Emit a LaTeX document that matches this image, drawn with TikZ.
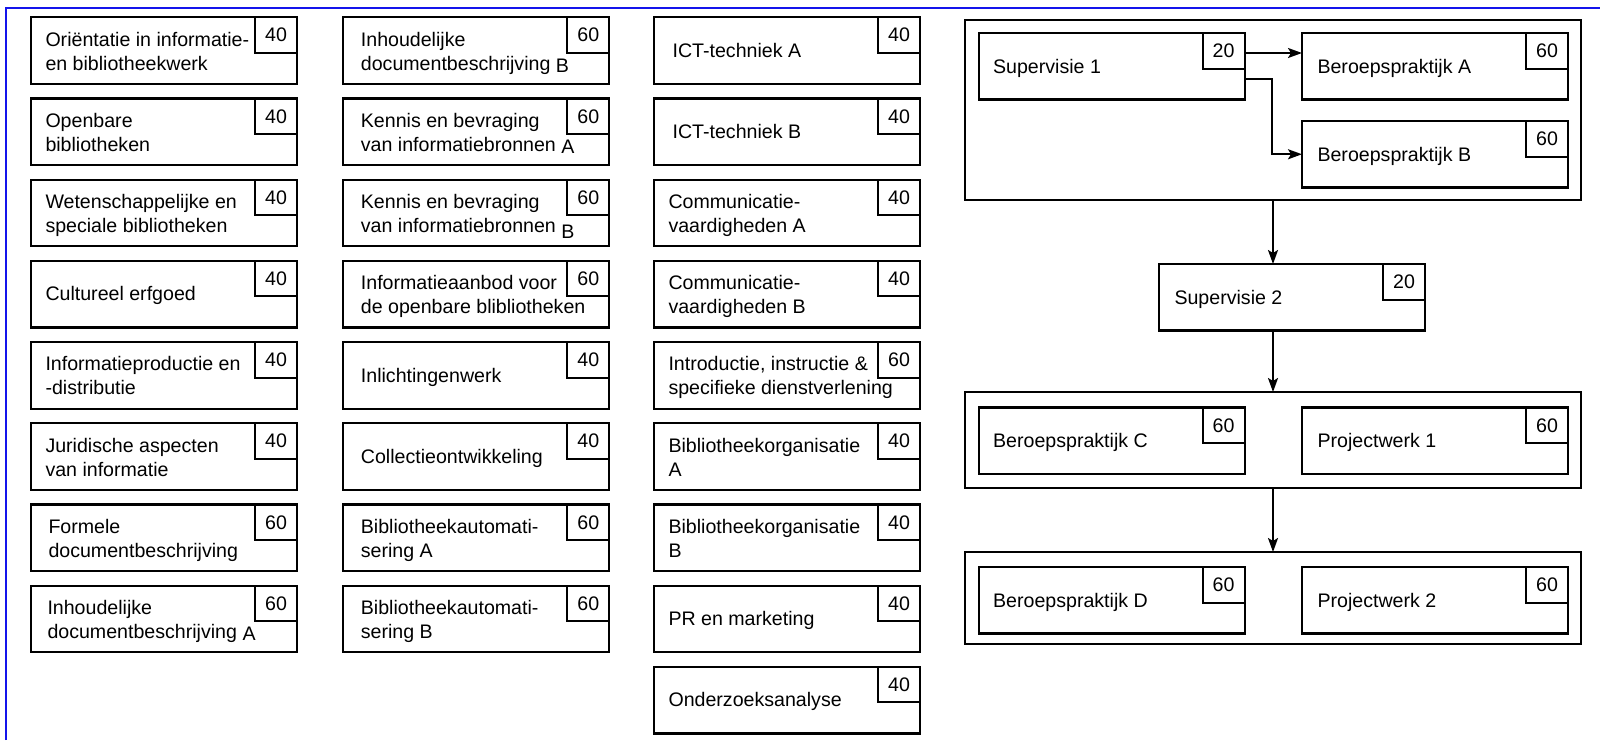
\documentclass[tikz,border=0pt]{standalone}
\usepackage{fontspec}
\setmainfont{Liberation Sans}
\usetikzlibrary{calc,arrows.meta}
\definecolor{frameblue}{RGB}{20,20,235}
\tikzset{
  cbox/.style={draw, line width=2.2pt, minimum width=266pt, minimum height=66.5pt, inner sep=0pt, outer sep=0pt, anchor=north west},
  badge/.style={draw, line width=2pt, minimum width=42pt, minimum height=35.5pt, inner sep=0pt, outer sep=0pt, anchor=north east, font=\fontsize{19.6pt}{22pt}\selectfont},
  ctext/.style={align=left, inner sep=0pt, anchor=base west, font=\fontsize{19.6pt}{24pt}\selectfont},
  grp/.style={draw, line width=2.2pt, inner sep=0pt, outer sep=0pt, minimum width=616pt, anchor=north west},
  arr/.style={line width=2pt, -{Stealth[length=14pt,width=10pt,inset=3pt]}},
}
% #5 = distance from box top to the baseline of the LAST text line
\newcommand\crs[7]{%
  \node[cbox] (#1) at (#2,#3) {};
  \node[badge] (#1n) at (#1.north east) {#7};
  \node[ctext] (#1t) at ($(#1.north west)+(#4,#5)$) {#6};
}
\newcommand\lowr[2]{\raisebox{-#1pt}{#2}}
\begin{document}
\begin{tikzpicture}[x=1pt,y=-1pt]
\useasboundingbox (0,0) rectangle (1600,740);
\draw[frameblue, line width=2pt] (5.7,740) -- (5.7,7.5) -- (1600,7.5);

% column 1
\crs{a1}{31}{17.3}{14.3}{52.7}{Oriëntatie in informatie-\\en bibliotheekwerk}{40}
\crs{a2}{31}{98.5}{14.3}{52.7}{Openbare\\bibliotheken}{40}
\crs{a3}{31}{179.7}{14.3}{52.7}{Wetenschappelijke en\\speciale bibliotheken}{40}
\crs{a4}{31}{260.9}{14.3}{40}{Cultureel erfgoed}{40}
\crs{a5}{31}{342.1}{14.3}{52.7}{Informatieproductie en\\-distributie}{40}
\crs{a6}{31}{423.3}{14.3}{52.7}{Juridische aspecten\\van informatie}{40}
\crs{a7}{31}{504.5}{17.3}{52.7}{Formele\\documentbeschrijving}{60}
\crs{a8}{31}{585.7}{16.3}{52.7}{Inhoudelijke\\documentbeschrijving \lowr{2.5}{A}}{60}

% column 2
\crs{b1}{343.3}{17.3}{17.4}{52.7}{Inhoudelijke\\documentbeschrijving \lowr{2.5}{B}}{60}
\crs{b2}{343.3}{98.5}{17.4}{52.7}{Kennis en bevraging\\van informatiebronnen \lowr{2.5}{A}}{60}
\crs{b3}{343.3}{179.7}{17.4}{52.7}{Kennis en bevraging\\van informatiebronnen \lowr{6}{B}}{60}
\crs{b4}{343.3}{260.9}{17.4}{52.7}{Informatieaanbod voor\\de openbare blibliotheken}{60}
\crs{b5}{343.3}{342.1}{17.4}{40}{Inlichtingenwerk}{40}
\crs{b6}{343.3}{423.3}{17.4}{40}{Collectieontwikkeling}{40}
\crs{b7}{343.3}{504.5}{17.4}{52.7}{Bibliotheekautomati-\\sering A}{60}
\crs{b8}{343.3}{585.7}{17.4}{52.7}{Bibliotheekautomati-\\sering B}{60}

% column 3
\crs{c1}{654}{17.3}{18.4}{40}{ICT-techniek A}{40}
\crs{c2}{654}{98.5}{18.4}{40}{ICT-techniek B}{40}
\crs{c3}{654}{179.7}{14.3}{52.7}{Communicatie-\\vaardigheden A}{40}
\crs{c4}{654}{260.9}{14.3}{52.7}{Communicatie-\\vaardigheden B}{40}
\crs{c5}{654}{342.1}{14.3}{52.7}{Introductie, instructie \&\\specifieke dienstverlening}{60}
\crs{c6}{654}{423.3}{14.3}{52.7}{Bibliotheekorganisatie\\A}{40}
\crs{c7}{654}{504.5}{14.3}{52.7}{Bibliotheekorganisatie\\B}{40}
\crs{c8}{654}{585.7}{14.3}{40}{PR en marketing}{40}
\crs{c9}{654}{666.9}{14.3}{40}{Onderzoeksanalyse}{40}

% right part
\node[grp, minimum height=180pt] (g1) at (965,20) {};
\crs{s1}{978.6}{33}{14.3}{40}{Supervisie 1}{20}
\crs{ba}{1302}{33}{15.3}{40}{Beroepspraktijk A}{60}
\crs{bb}{1302}{121}{15.3}{40}{Beroepspraktijk B}{60}
\crs{s2}{1159}{264}{15.3}{40}{Supervisie 2}{20}
\node[grp, minimum height=96pt] (g2) at (965,392) {};
\crs{bc}{978.6}{407.5}{14.3}{40}{Beroepspraktijk C}{60}
\crs{p1}{1302}{407.5}{15.3}{40}{Projectwerk 1}{60}
\node[grp, minimum height=92pt] (g3) at (965,552) {};
\crs{bd}{978.6}{567}{14.3}{40}{Beroepspraktijk D}{60}
\crs{p2}{1302}{567}{15.3}{40}{Projectwerk 2}{60}

\draw[arr] ($(s1.north east)+(0,20)$) -- ($(ba.north west)+(0,20)$);
\draw[arr] ($(s1.north east)+(0,46)$) -| ($(bb.west)+(-30,0)$) -- (bb.west);
\draw[arr] (g1.south) -- (g1.south |- s2.north);
\draw[arr] (g1.south |- s2.south) -- (g2.north);
\draw[arr] (g2.south) -- (g3.north);
\end{tikzpicture}
\end{document}
